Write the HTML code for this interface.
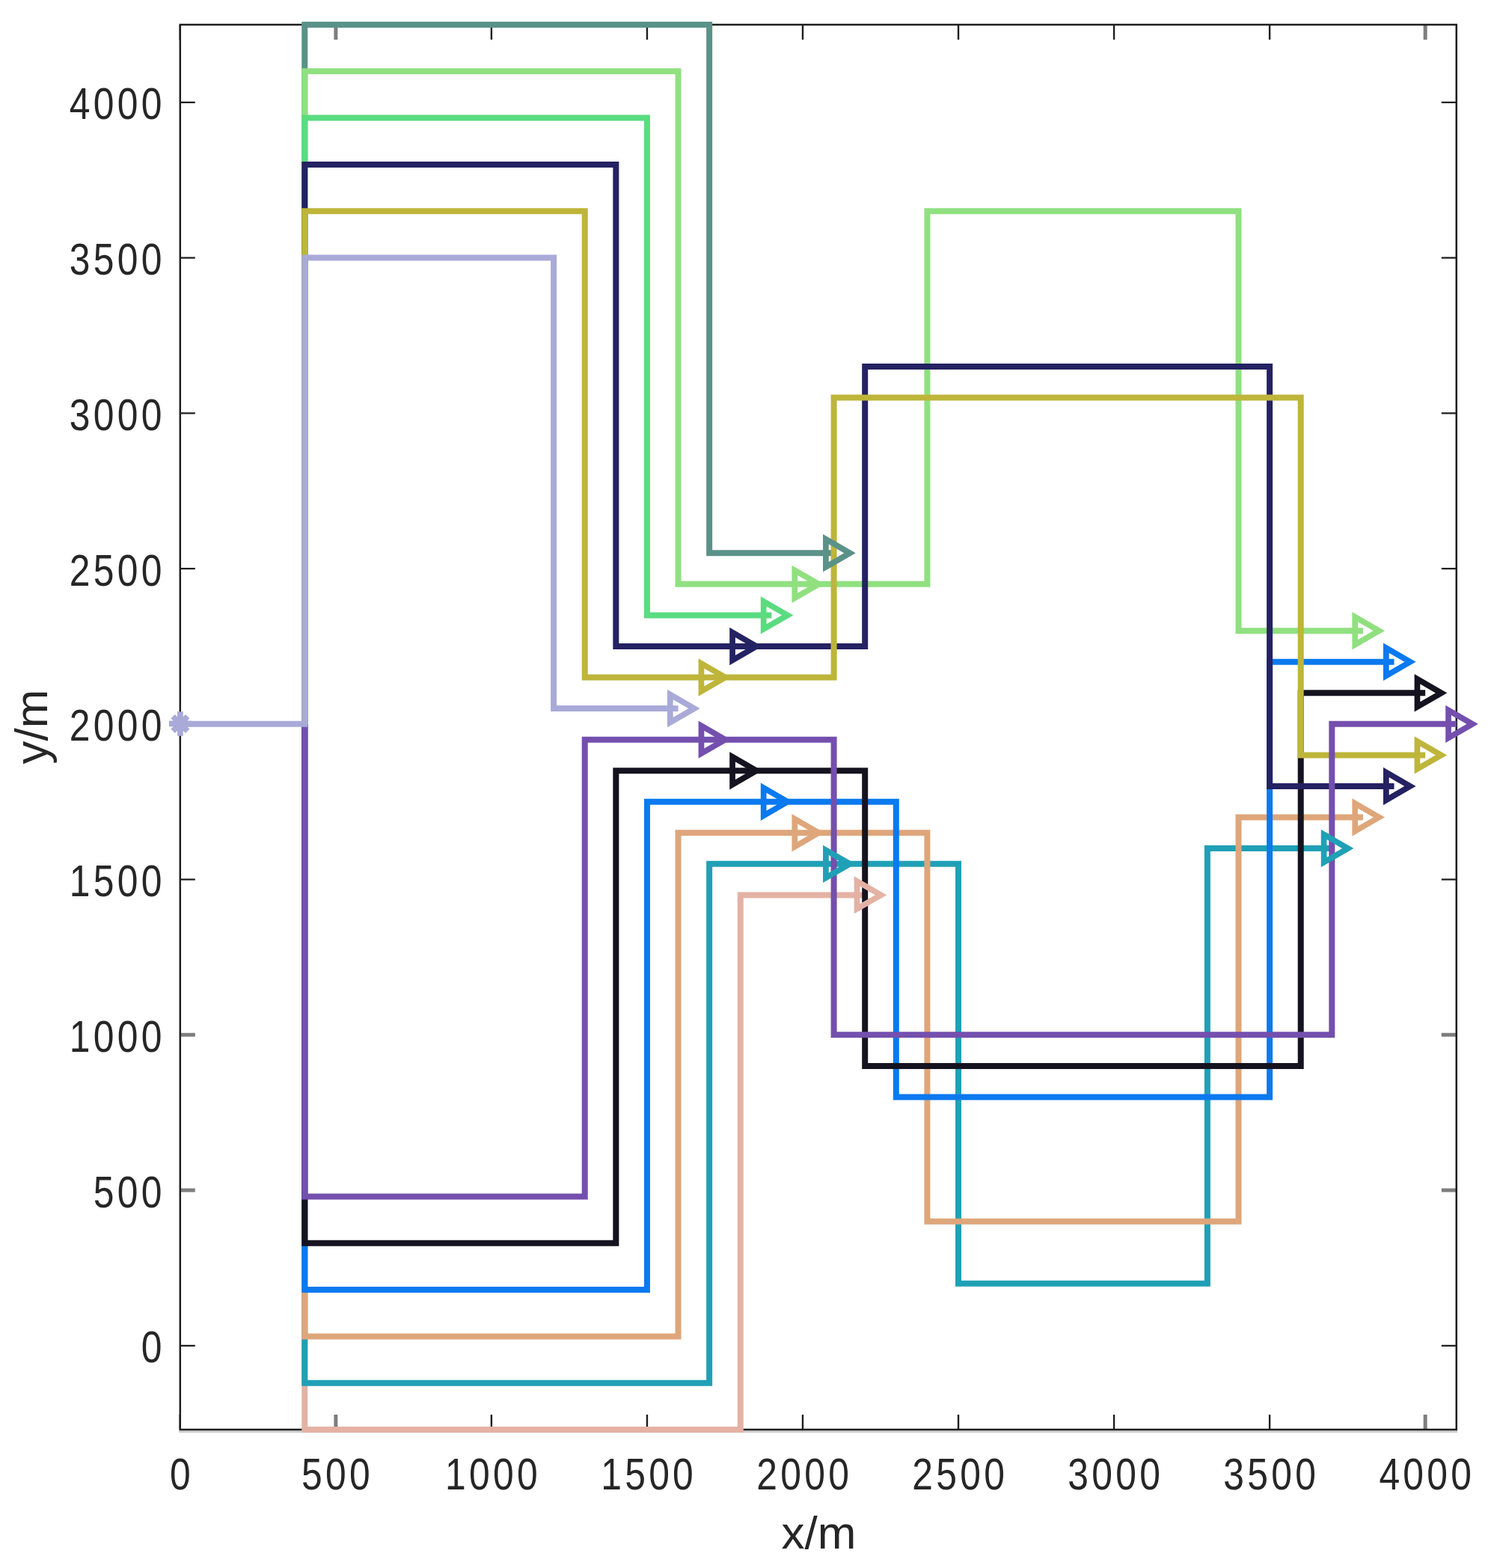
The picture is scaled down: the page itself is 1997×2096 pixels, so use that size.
<!DOCTYPE html><html><head><meta charset="utf-8"><title>plot</title>
<style>html,body{margin:0;padding:0;background:#fff;}svg{display:block;}text{font-family:"Liberation Sans",Arial,Helvetica,sans-serif;fill:#262626;}</style></head><body>
<svg width="1997" height="2096" viewBox="0 0 1997 2096">
<rect x="0" y="0" width="1997" height="2096" fill="#fff"/>
<rect x="239.3" y="1912.26" width="1708.97" height="3" fill="#cecece"/>
<path d="M240.8 1911.06V1891.06M240.8 32.95V52.95M240.8 1798.87H260.8M1946.77 1798.87H1926.77M656.89 1911.06V1891.06M656.89 32.95V52.95M864.93 1911.06V1891.06M864.93 32.95V52.95M240.8 1175.61H260.8M1946.77 1175.61H1926.77M1072.98 1911.06V1891.06M1072.98 32.95V52.95M240.8 967.85H260.8M1946.77 967.85H1926.77M1281.03 1911.06V1891.06M1281.03 32.95V52.95M240.8 760.1H260.8M1946.77 760.1H1926.77M1489.07 1911.06V1891.06M1489.07 32.95V52.95M240.8 552.34H260.8M1946.77 552.34H1926.77M1697.12 1911.06V1891.06M1697.12 32.95V52.95M240.8 344.59H260.8M1946.77 344.59H1926.77M240.8 136.83H260.8M1946.77 136.83H1926.77" stroke="#1e1e1e" stroke-width="2.4" fill="none"/>
<path d="M448.85 1911.06V1891.06M448.85 32.95V52.95M240.8 1591.11H260.8M1946.77 1591.11H1926.77M240.8 1383.36H260.8M1946.77 1383.36H1926.77M1905.16 1911.06V1891.06M1905.16 32.95V52.95" stroke="#7e7e7e" stroke-width="5" fill="none"/>
<path d="M240.8 32.95H1946.77V1911.06H240.8Z" stroke="#1e1e1e" stroke-width="2.5" fill="none" stroke-linejoin="miter"/>
<text transform="translate(243 1990.6) scale(0.89 1.05)" font-size="56" letter-spacing="4.8" text-anchor="middle">0</text>
<text transform="translate(451.05 1990.6) scale(0.89 1.05)" font-size="56" letter-spacing="4.8" text-anchor="middle">500</text>
<text transform="translate(659.09 1990.6) scale(0.89 1.05)" font-size="56" letter-spacing="4.8" text-anchor="middle">1000</text>
<text transform="translate(867.13 1990.6) scale(0.89 1.05)" font-size="56" letter-spacing="4.8" text-anchor="middle">1500</text>
<text transform="translate(1075.18 1990.6) scale(0.89 1.05)" font-size="56" letter-spacing="4.8" text-anchor="middle">2000</text>
<text transform="translate(1283.23 1990.6) scale(0.89 1.05)" font-size="56" letter-spacing="4.8" text-anchor="middle">2500</text>
<text transform="translate(1491.27 1990.6) scale(0.89 1.05)" font-size="56" letter-spacing="4.8" text-anchor="middle">3000</text>
<text transform="translate(1699.32 1990.6) scale(0.89 1.05)" font-size="56" letter-spacing="4.8" text-anchor="middle">3500</text>
<text transform="translate(1907.36 1990.6) scale(0.89 1.05)" font-size="56" letter-spacing="4.8" text-anchor="middle">4000</text>
<text transform="translate(220.8 1821.47) scale(0.89 1.05)" font-size="56" letter-spacing="4.8" text-anchor="end">0</text>
<text transform="translate(220.8 1613.71) scale(0.89 1.05)" font-size="56" letter-spacing="4.8" text-anchor="end">500</text>
<text transform="translate(220.8 1405.96) scale(0.89 1.05)" font-size="56" letter-spacing="4.8" text-anchor="end">1000</text>
<text transform="translate(220.8 1198.2) scale(0.89 1.05)" font-size="56" letter-spacing="4.8" text-anchor="end">1500</text>
<text transform="translate(220.8 990.45) scale(0.89 1.05)" font-size="56" letter-spacing="4.8" text-anchor="end">2000</text>
<text transform="translate(220.8 782.7) scale(0.89 1.05)" font-size="56" letter-spacing="4.8" text-anchor="end">2500</text>
<text transform="translate(220.8 574.94) scale(0.89 1.05)" font-size="56" letter-spacing="4.8" text-anchor="end">3000</text>
<text transform="translate(220.8 367.19) scale(0.89 1.05)" font-size="56" letter-spacing="4.8" text-anchor="end">3500</text>
<text transform="translate(220.8 159.43) scale(0.89 1.05)" font-size="56" letter-spacing="4.8" text-anchor="end">4000</text>
<text x="1094.5" y="2070.1" font-size="62" text-anchor="middle">x/m</text>
<text transform="translate(62.9 971.5) rotate(-90)" font-size="62" text-anchor="middle">y/m</text>
<path d="M407.24 967.85 L407.24 1911.06 L989.76 1911.06 L989.76 1196.38 L1156.2 1196.38" stroke="#e4b2a4" stroke-width="8" fill="none" stroke-linejoin="miter"/>
<path d="M407.24 967.85 L407.24 1848.73 L948.15 1848.73 L948.15 1154.83 L1114.59 1154.83 L1281.03 1154.83 L1281.03 1715.77 L1613.9 1715.77 L1613.9 1134.05 L1780.33 1134.05" stroke="#20a0b6" stroke-width="8" fill="none" stroke-linejoin="miter"/>
<path d="M407.24 967.85 L407.24 1786.4 L906.54 1786.4 L906.54 1113.28 L1072.98 1113.28 L1239.42 1113.28 L1239.42 1632.67 L1655.51 1632.67 L1655.51 1092.5 L1821.94 1092.5" stroke="#dea67a" stroke-width="8" fill="none" stroke-linejoin="miter"/>
<path d="M407.24 967.85 L407.24 1724.08 L864.93 1724.08 L864.93 1071.73 L1031.37 1071.73 L1197.81 1071.73 L1197.81 1466.46 L1697.12 1466.46 L1697.12 884.75 L1863.55 884.75" stroke="#0b79ef" stroke-width="8" fill="none" stroke-linejoin="miter"/>
<path d="M407.24 967.85 L407.24 1661.75 L823.33 1661.75 L823.33 1030.18 L989.76 1030.18 L1156.2 1030.18 L1156.2 1424.91 L1738.72 1424.91 L1738.72 926.3 L1905.16 926.3" stroke="#15131f" stroke-width="8" fill="none" stroke-linejoin="miter"/>
<path d="M407.24 967.85 L407.24 32.95 L948.15 32.95 L948.15 739.32 L1114.59 739.32" stroke="#5a9288" stroke-width="8" fill="none" stroke-linejoin="miter"/>
<path d="M407.24 967.85 L407.24 95.28 L906.54 95.28 L906.54 780.87 L1072.98 780.87 L1239.42 780.87 L1239.42 282.26 L1655.51 282.26 L1655.51 843.2 L1821.94 843.2" stroke="#90e080" stroke-width="8" fill="none" stroke-linejoin="miter"/>
<path d="M407.24 967.85 L407.24 157.61 L864.93 157.61 L864.93 822.42 L1031.37 822.42" stroke="#5adc80" stroke-width="8" fill="none" stroke-linejoin="miter"/>
<path d="M407.24 967.85 L407.24 219.93 L823.33 219.93 L823.33 863.97 L989.76 863.97 L1156.2 863.97 L1156.2 490.01 L1697.12 490.01 L1697.12 1050.95 L1863.55 1050.95" stroke="#242262" stroke-width="8" fill="none" stroke-linejoin="miter"/>
<path d="M407.24 967.85 L407.24 282.26 L781.72 282.26 L781.72 905.52 L948.15 905.52 L1114.59 905.52 L1114.59 531.56 L1738.72 531.56 L1738.72 1009.4 L1905.16 1009.4" stroke="#beb53a" stroke-width="8" fill="none" stroke-linejoin="miter"/>
<path d="M407.24 967.85 L407.24 1599.43 L781.72 1599.43 L781.72 988.63 L948.15 988.63 L1114.59 988.63 L1114.59 1383.36 L1780.33 1383.36 L1780.33 967.85 L1946.77 967.85" stroke="#744fae" stroke-width="8" fill="none" stroke-linejoin="miter"/>
<path d="M240.8 967.85 L407.24 967.85 L407.24 344.59 L740.11 344.59 L740.11 947.07 L906.54 947.07" stroke="#a9aad8" stroke-width="8" fill="none" stroke-linejoin="miter"/>
<polygon points="1177.6,1196.38 1145.5,1214.91 1145.5,1177.85" stroke="#e4b2a4" stroke-width="7.7" fill="none" stroke-linejoin="miter"/>
<polygon points="1135.99,1154.83 1103.89,1173.36 1103.89,1136.3" stroke="#20a0b6" stroke-width="7.7" fill="none" stroke-linejoin="miter"/>
<polygon points="1801.73,1134.05 1769.63,1152.59 1769.63,1115.52" stroke="#20a0b6" stroke-width="7.7" fill="none" stroke-linejoin="miter"/>
<polygon points="1094.38,1113.28 1062.28,1131.81 1062.28,1094.75" stroke="#dea67a" stroke-width="7.7" fill="none" stroke-linejoin="miter"/>
<polygon points="1843.34,1092.5 1811.24,1111.04 1811.24,1073.97" stroke="#dea67a" stroke-width="7.7" fill="none" stroke-linejoin="miter"/>
<polygon points="1052.77,1071.73 1020.67,1090.26 1020.67,1053.19" stroke="#0b79ef" stroke-width="7.7" fill="none" stroke-linejoin="miter"/>
<polygon points="1884.95,884.75 1852.85,903.28 1852.85,866.22" stroke="#0b79ef" stroke-width="7.7" fill="none" stroke-linejoin="miter"/>
<polygon points="1011.16,1030.18 979.06,1048.71 979.06,1011.64" stroke="#15131f" stroke-width="7.7" fill="none" stroke-linejoin="miter"/>
<polygon points="1926.56,926.3 1894.46,944.83 1894.46,907.77" stroke="#15131f" stroke-width="7.7" fill="none" stroke-linejoin="miter"/>
<polygon points="1135.99,739.32 1103.89,757.85 1103.89,720.79" stroke="#5a9288" stroke-width="7.7" fill="none" stroke-linejoin="miter"/>
<polygon points="1094.38,780.87 1062.28,799.4 1062.28,762.34" stroke="#90e080" stroke-width="7.7" fill="none" stroke-linejoin="miter"/>
<polygon points="1843.34,843.2 1811.24,861.73 1811.24,824.66" stroke="#90e080" stroke-width="7.7" fill="none" stroke-linejoin="miter"/>
<polygon points="1052.77,822.42 1020.67,840.95 1020.67,803.89" stroke="#5adc80" stroke-width="7.7" fill="none" stroke-linejoin="miter"/>
<polygon points="1011.16,863.97 979.06,882.51 979.06,845.44" stroke="#242262" stroke-width="7.7" fill="none" stroke-linejoin="miter"/>
<polygon points="1884.95,1050.95 1852.85,1069.48 1852.85,1032.42" stroke="#242262" stroke-width="7.7" fill="none" stroke-linejoin="miter"/>
<polygon points="969.55,905.52 937.45,924.06 937.45,886.99" stroke="#beb53a" stroke-width="7.7" fill="none" stroke-linejoin="miter"/>
<polygon points="1926.56,1009.4 1894.46,1027.93 1894.46,990.87" stroke="#beb53a" stroke-width="7.7" fill="none" stroke-linejoin="miter"/>
<polygon points="969.55,988.63 937.45,1007.16 937.45,970.09" stroke="#744fae" stroke-width="7.7" fill="none" stroke-linejoin="miter"/>
<polygon points="1968.17,967.85 1936.07,986.38 1936.07,949.32" stroke="#744fae" stroke-width="7.7" fill="none" stroke-linejoin="miter"/>
<polygon points="927.94,947.07 895.84,965.61 895.84,928.54" stroke="#a9aad8" stroke-width="7.7" fill="none" stroke-linejoin="miter"/>
<path d="M225.9 967.45H255.9 M240.9 951.25V983.65 M231.1 957.65L250.7 977.25 M231.1 977.25L250.7 957.65" stroke="#a9aad8" stroke-width="7.7" fill="none"/>
</svg></body></html>
